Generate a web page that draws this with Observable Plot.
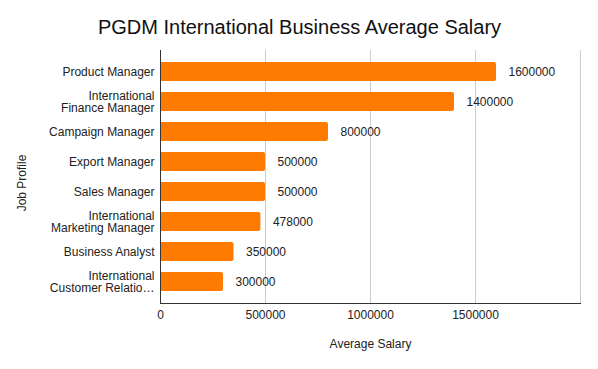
<!DOCTYPE html>
<html>
<head>
<meta charset="utf-8">
<script src="https://cdn.jsdelivr.net/npm/d3@7"></script>
<script src="https://cdn.jsdelivr.net/npm/@observablehq/plot@0.6"></script>
<style>
  html, body { margin: 0; padding: 0; background: #fff; }
  svg { display: block; }
</style>
</head>
<body>
<div id="chart"></div>
<script>
const jobProfiles = [
  "Product Manager",
  "International\nFinance Manager",
  "Campaign Manager",
  "Export Manager",
  "Sales Manager",
  "International\nMarketing Manager",
  "Business Analyst",
  "International\nCustomer Relatio…"
];
const salaries = [1600000, 1400000, 800000, 500000, 500000, 478000, 350000, 300000];
const xTicks = [0, 500000, 1000000, 1500000];
const gridTicks = [500000, 1000000, 1500000, 2000000];
const titleText = "PGDM International Business Average Salary";

const data = jobProfiles.map((job, i) => ({job, salary: salaries[i]}));
const font = "Liberation Sans, Arial, sans-serif";

const chart = Plot.plot({
  width: 598,
  height: 369,
  marginLeft: 160,
  marginRight: 18,
  marginTop: 50,
  marginBottom: 66,
  style: {fontFamily: font, fontSize: "12px", color: "#222", background: "#fff"},
  x: {domain: [0, 2000000]},
  y: {domain: jobProfiles, paddingInner: 0.36, paddingOuter: 0.33},
  marks: [
    Plot.ruleX(gridTicks, {stroke: "#cccccc", strokeWidth: 1}),
    Plot.barX(data, {x: "salary", y: "job", fill: "#ff7a00", rx: 2}),
    Plot.ruleX([0], {stroke: "#333", strokeWidth: 1}),
    Plot.frame({anchor: "bottom", stroke: "#333", strokeWidth: 1}),
    Plot.text(data, {x: "salary", y: "job", text: d => String(d.salary), dx: 12, textAnchor: "start", fill: "#222", fontSize: 12}),
    Plot.axisX({ticks: xTicks, tickFormat: d => String(d), tickSize: 0, tickPadding: 7, label: null, fontSize: 12}),
    Plot.axisY({tickSize: 0, tickPadding: 6, label: null, fontSize: 12, lineHeight: 1.02}),
    Plot.text(["Average Salary"], {frameAnchor: "bottom", lineAnchor: "middle", dy: 41, fill: "#222", fontSize: 12}),
    Plot.text(["Job Profile"], {frameAnchor: "left", textAnchor: "middle", lineAnchor: "middle", dx: -138, dy: 6, rotate: -90, fill: "#222", fontSize: 12}),
    Plot.text([titleText], {frameAnchor: "top", textAnchor: "middle", lineAnchor: "middle", dx: -71, dy: -23, fill: "#111", fontSize: 20})
  ]
});
document.getElementById("chart").appendChild(chart);
</script>
</body>
</html>
